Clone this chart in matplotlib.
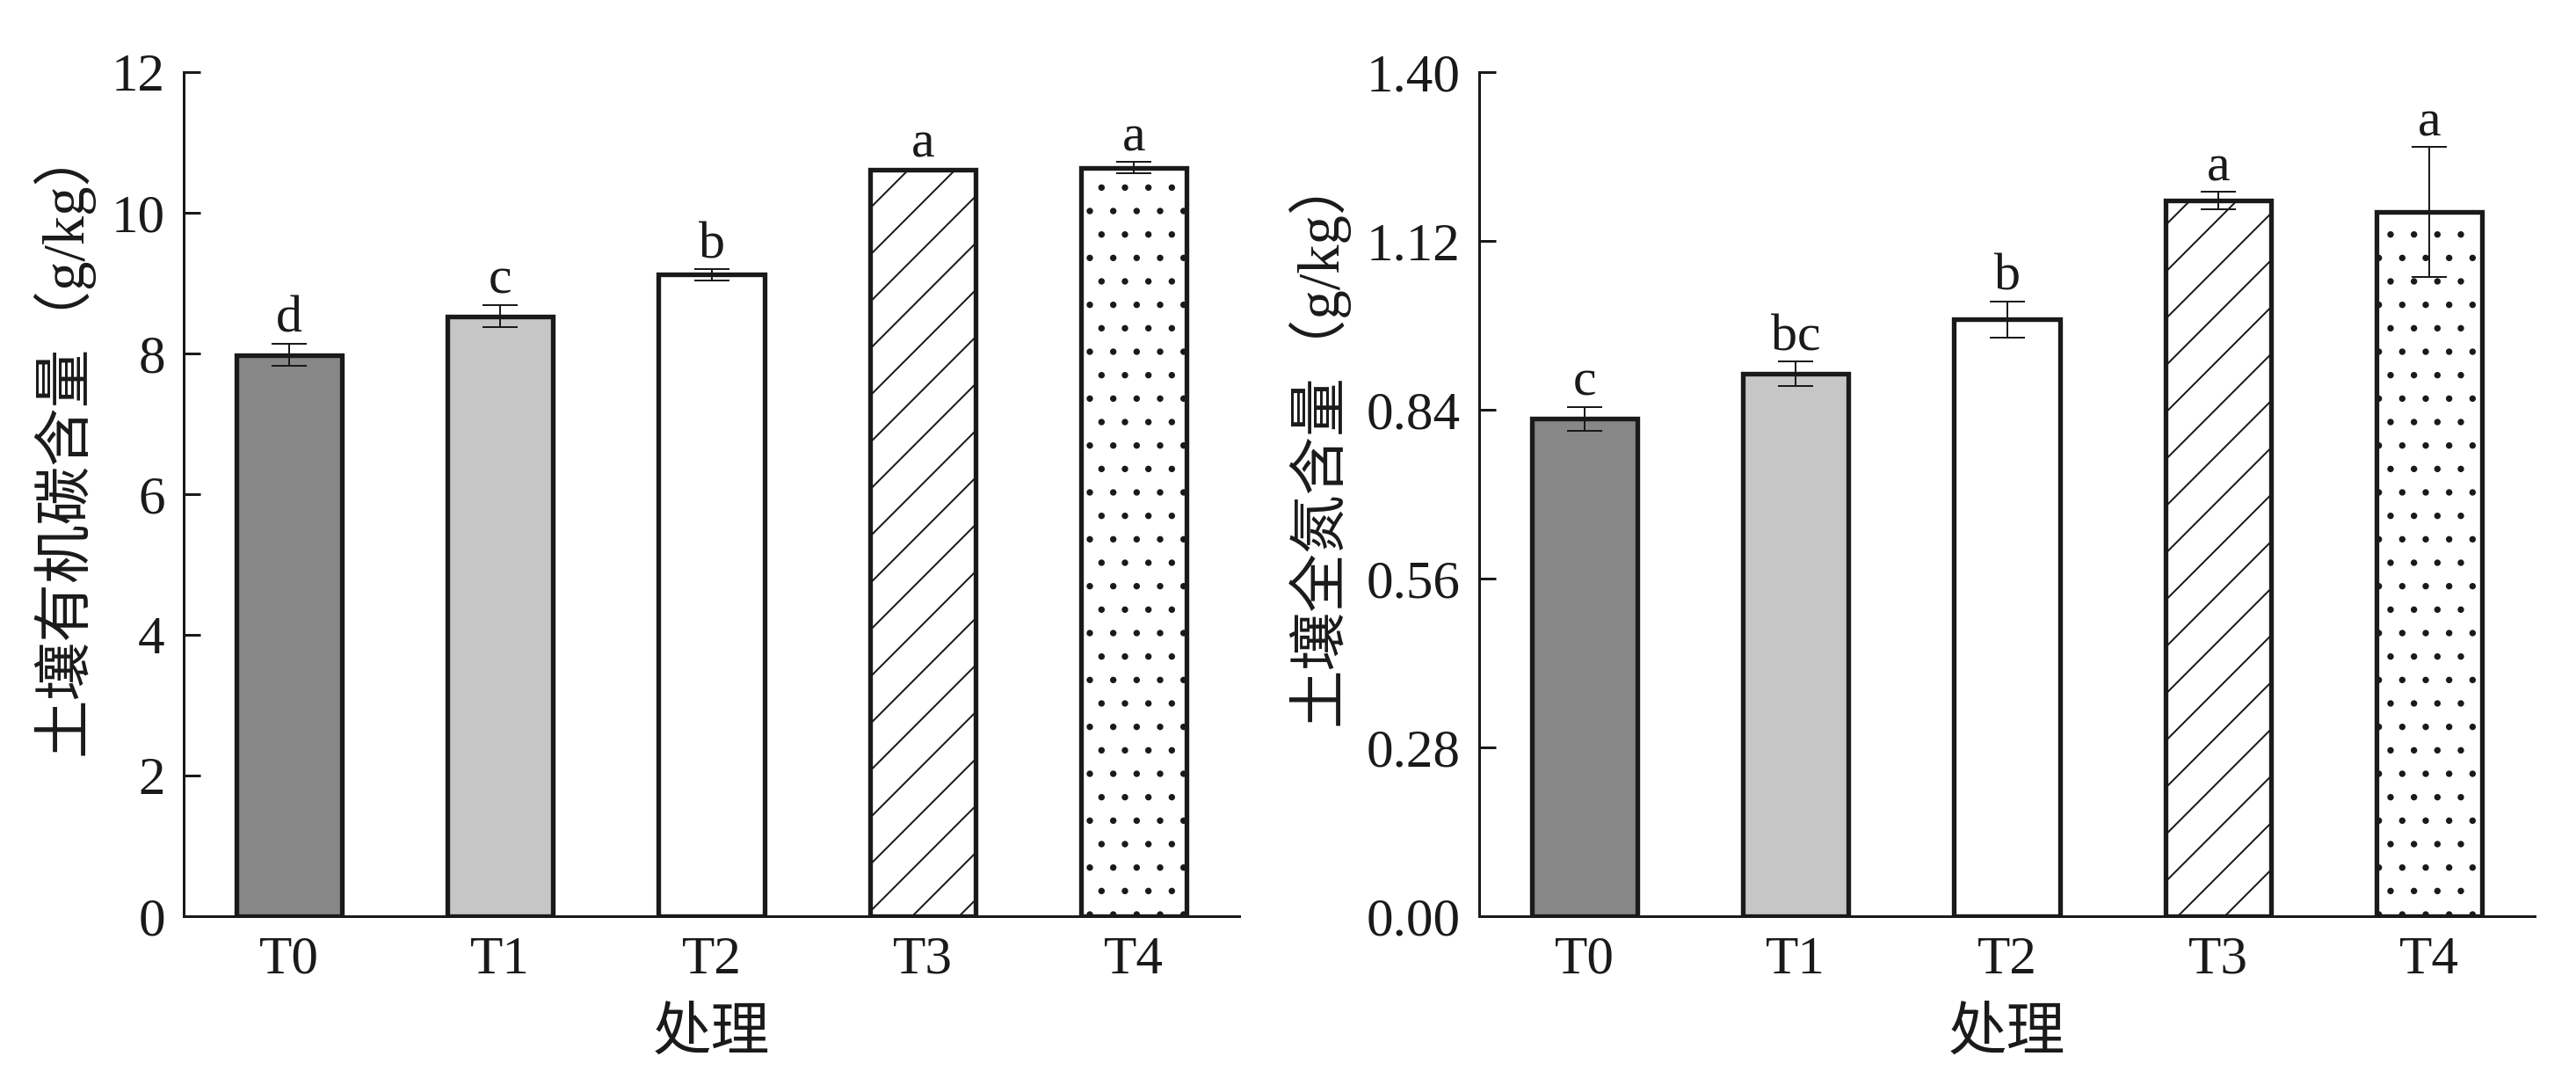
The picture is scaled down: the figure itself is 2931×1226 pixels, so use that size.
import numpy as np
import matplotlib
matplotlib.use('Agg')
import matplotlib.pyplot as plt

plt.rcParams['font.family'] = ['Liberation Serif', 'Noto Sans CJK SC', 'DejaVu Sans']
plt.rcParams['hatch.linewidth'] = 0.9

treatments = ['T0', 'T1', 'T2', 'T3', 'T4']
soc = [7.98, 8.53, 9.12, 10.61, 10.64]
soc_err = [0.16, 0.16, 0.08, 0.02, 0.08]
soc_letters = ['d', 'c', 'b', 'a', 'a']
tn = [0.825, 0.900, 0.990, 1.187, 1.168]
tn_err = [0.02, 0.02, 0.03, 0.014, 0.108]
tn_letters = ['c', 'bc', 'b', 'a', 'a']

soc_ticks = [0, 2, 4, 6, 8, 10, 12]
tn_ticks = [0.00, 0.28, 0.56, 0.84, 1.12, 1.40]

fills = ['#878787', '#c6c6c6', 'white', 'white', 'white']
hatches = ['', '', '', '/', '.']
ink = '#1a1a1a'


def panel(ax, vals, errs, letters, ticks, fmt, ylabel):
    x = np.arange(len(treatments))
    bars = ax.bar(x, vals, width=0.5, color=fills, edgecolor=ink, linewidth=2.4, zorder=2)
    for b, h in zip(bars, hatches):
        b.set_hatch(h)
    ax.errorbar(x, vals, yerr=errs, fmt='none', ecolor=ink, elinewidth=0.9,
                capsize=9, capthick=0.9, zorder=3)
    for xi, v, e, t in zip(x, vals, errs, letters):
        ax.annotate(t, (xi, v + e), xytext=(0, 0), textcoords='offset points',
                    ha='center', va='bottom', fontsize=27, color=ink)
    ax.set_xlim(-0.5, 4.5)
    ax.set_ylim(ticks[0], ticks[-1])
    ax.set_xticks(x)
    ax.set_xticklabels(treatments)
    ax.set_yticks(ticks)
    ax.set_yticklabels([fmt.format(t) for t in ticks])
    ax.tick_params(axis='y', direction='in', length=8.5, width=1.35, pad=9.5,
                   labelsize=27.5, colors=ink)
    ax.tick_params(axis='x', length=0, pad=10, labelsize=27.5, colors=ink)
    for s in ['top', 'right']:
        ax.spines[s].set_visible(False)
    for s in ['left', 'bottom']:
        ax.spines[s].set_linewidth(1.35)
        ax.spines[s].set_color(ink)
    ax.set_xlabel('处理', fontsize=30, color=ink, labelpad=12)
    ax.set_ylabel(ylabel, fontsize=30, color=ink, labelpad=9, y=0.565)


fig = plt.figure(figsize=(2931 / 160, 1226 / 160), dpi=160)
ax1 = fig.add_axes([0.0713, 0.1501, 0.4098, 0.7830])
ax2 = fig.add_axes([0.5742, 0.1501, 0.4098, 0.7830])

panel(ax1, soc, soc_err, soc_letters, soc_ticks, '{:.0f}', '土壤有机碳含量（g/kg）')
panel(ax2, tn, tn_err, tn_letters, tn_ticks, '{:.2f}', '土壤全氮含量（g/kg）')

fig.savefig('out.png', dpi=160, facecolor='white')
